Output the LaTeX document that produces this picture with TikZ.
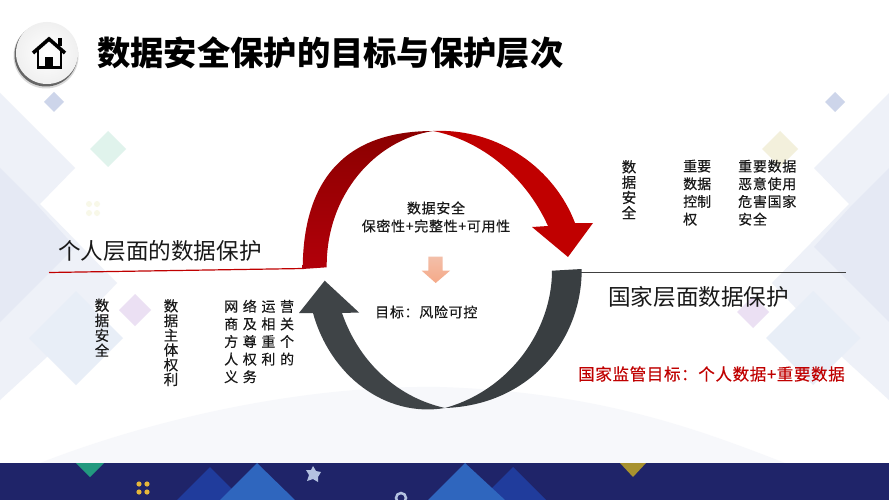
\documentclass[tikz,border=0pt]{standalone}
\usepackage{fontspec}
\setmainfont[FakeBold=0.3]{Noto Sans CJK SC}
\newfontfamily\plainfont{Noto Sans CJK SC}
\newfontfamily\cjkwide[LetterSpace=33,FakeBold=0.3]{Noto Sans CJK SC}
\newfontfamily\cjkmid[LetterSpace=5,FakeBold=0.3]{Noto Sans CJK SC}
\newfontfamily\cjkred[LetterSpace=4,FakeBold=0.3]{Noto Sans CJK SC}
\usepackage{xcolor}
\newcommand{\fwcolon}{\char"FF1A\relax}
\definecolor{bandblue}{HTML}{1F2469}
\definecolor{triA}{HTML}{2F66BE}
\definecolor{triB}{HTML}{203C9C}
\definecolor{bgA}{HTML}{EEF1F8}
\definecolor{bgB}{HTML}{E5E9F4}
\definecolor{bgC}{HTML}{E8EEF7}
\definecolor{redarrow}{HTML}{C00000}
\definecolor{darkarrow}{HTML}{393E41}
\definecolor{gemA}{HTML}{CDD5EA}
\definecolor{gemB}{HTML}{E0F3EC}
\definecolor{gemC}{HTML}{EBE0F3}
\definecolor{gemD}{HTML}{F3F0DC}
\definecolor{dotpale}{HTML}{F8F8E8}
\definecolor{wavec}{HTML}{F7F8FB}
\definecolor{teal}{HTML}{22997F}
\definecolor{gold}{HTML}{A8922F}
\definecolor{dotgold}{HTML}{E6B73A}
\definecolor{starc}{HTML}{B4C2E0}
\definecolor{redtop}{HTML}{8B0000}
\definecolor{redbot}{HTML}{B2000A}
\definecolor{peachA}{HTML}{F3BFA9}
\definecolor{peachB}{HTML}{F5A988}
\tikzset{
  titletext/.style={font=\fontsize{33.3}{38}\selectfont\plainfont\bfseries,anchor=west,text=black,inner sep=0pt},
  headtext/.style={font=\fontsize{22.6}{26}\selectfont\plainfont,anchor=west,text=black!90,inner sep=0pt},
  bodytext/.style={align=left,inner sep=0pt,anchor=north west,text=black!90},
  midtext/.style={font=\fontsize{14}{18}\selectfont\cjkmid,align=center,inner sep=0pt,text=black!90},
}
\begin{document}
\begin{tikzpicture}[x=1pt,y=-1pt]
\useasboundingbox (0,0) rectangle (889,500);
\fill[white] (0,0) rectangle (889,500);
% background left
\fill[bgA] (0,93)--(75,168)--(40,204)--(117,283)--(47,357)--(0,400)--cycle;
\fill[bgB] (0,168)--(37,205)--(75,247)--(0,322)--cycle;
\fill[bgC] (76,291)--(123,338)--(76,385)--(29,338)--cycle;
% background right
\fill[bgA] (889,93)--(814,168)--(849,204)--(772,283)--(842,357)--(889,400)--cycle;
\fill[bgB] (889,168)--(852,205)--(814,247)--(889,322)--cycle;
\fill[bgC] (813,291)--(860,338)--(813,385)--(766,338)--cycle;
% small gems
\fill[gemA] (54,92)--(64,102)--(54,112)--(44,102)--cycle;
\fill[gemB] (108,131)--(126,149)--(108,167)--(90,149)--cycle;
\fill[gemC] (135,294)--(151,310)--(135,326)--(119,310)--cycle;
\fill[gemA] (835,92)--(845,102)--(835,112)--(825,102)--cycle;
\fill[gemD] (780,131)--(798,149)--(780,167)--(762,149)--cycle;
\fill[gemC] (753,296)--(769,312)--(753,328)--(737,312)--cycle;
\foreach \dx/\dy in {89/204,97/204,89/213,97/213}{\fill[dotpale] (\dx,\dy) circle (3);}
% wave
\fill[wavec] (40,463) .. controls (150,420) and (300,385) .. (440,387) .. controls (600,392) and (700,430) .. (785,463) -- cycle;
% band
\fill[bandblue] (0,463) rectangle (889,500);
\fill[teal] (76,463)--(104,463)--(90,477)--cycle;
\fill[triB] (210,467)--(243,500)--(177,500)--cycle;
\fill[triA] (257,463)--(295,500)--(220,500)--cycle;
\fill[triB] (513,467)--(546,500)--(480,500)--cycle;
\fill[triA] (465,463)--(505,500)--(428,500)--cycle;
\fill[gold] (620,463)--(646,463)--(633,477)--cycle;
\foreach \dx/\dy in {139/484,147/484,139/492,147/492}{\fill[dotgold] (\dx,\dy) circle (2.6);}
\fill[starc] (313,466)--(316,471)--(321,472)--(318,477)--(318,482)--(313,479)--(307,481)--(309,475)--(306,470)--(311,470)--cycle;
\draw[starc,line width=2.5] (401,498) circle (5);
% icon
\fill[black!15] (46,56) circle (32.5);
\fill[black!60] (46,55) circle (31.5);
\shade[inner color=white,outer color=black!6] (47,53) circle (31);
\draw[black,line width=3.6,line join=miter] (33,53)--(49,39)--(65,53);
\fill[black] (58,38) rectangle (62,46);
\draw[black,line width=2.8] (38,50)--(38,67.5)--(61,67.5)--(61,50);
\fill[black] (45,57) rectangle (53,67);
% title
\node[titletext] (title) at (97,53) {数据安全保护的目标与保护层次};
% lines
\coordinate (lineLa) at (49,272.5);
\coordinate (lineLb) at (304,268.5);
\coordinate (lineRa) at (580,272);
\coordinate (lineRb) at (846,272);
\draw[redarrow,line width=1.2] (lineLa)--(lineLb);
\draw[black!75,line width=1] (lineRa)--(lineRb);
% red arrow
\shade[top color=redtop,bottom color=redbot] (302.7,269) .. controls (303,180) and (345,131) .. (433,131) .. controls (375,140) and (326,195) .. (326.7,267.3) -- cycle;
\fill[redarrow] (433,131) .. controls (500,128) and (555,170) .. (575,223) -- (593,223) -- (568,257) -- (532,227) -- (548,226) .. controls (525,175) and (480,140) .. (433,131) -- cycle;
% dark arrow
\fill[darkarrow] (581.7,269) .. controls (582,340) and (530,405) .. (445,408) .. controls (510,390) and (552,330) .. (552,270.7) -- cycle;
\fill[darkarrow!97!white] (445,408) .. controls (385,418) and (330,375) .. (313,313) -- (299,313) -- (324.7,280.7) -- (359,312.5) -- (342,313) .. controls (360,365) and (400,398) .. (445,408) -- cycle;
% small arrow
\shade[top color=peachA,bottom color=peachB] (428.3,256.7) -- (442.7,256.7) -- (442.7,270.7) -- (450,270.7) -- (435.7,283) -- (421.7,270.7) -- (428.3,270.7) -- cycle;
% head texts
\node[headtext] (persHead) at (58,251) {个人层面的数据保护};
\node[headtext] (natHead) at (608,297) {国家层面数据保护};
\node[anchor=west,inner sep=0pt,text=redarrow,font=\fontsize{16.5}{18}\selectfont\cjkred] (natGoal) at (578,374) {国家监管目标\fwcolon{}个人数据+重要数据};
% centre
\node[midtext] (centerA) at (436,217) {数据安全\\保密性+完整性+可用性};
\node[midtext,anchor=west] (centerB) at (375,312) {目标\fwcolon{}风险可控};
% left columns
\node[bodytext,font=\fontsize{14.5}{15}\selectfont,anchor=north] (colA) at (102,298.5) {数\\据\\安\\全};
\node[bodytext,font=\fontsize{14.5}{14.7}\selectfont,anchor=north] (colB) at (171,299) {数\\据\\主\\体\\权\\利};
\node[bodytext,font=\fontsize{14}{17.6}\selectfont\cjkwide,anchor=north west] (colC) at (224,299.5) {网络运营\\商及相关\\方尊重个\\人权利的\\义务};
% right columns
\node[bodytext,font=\fontsize{14.5}{15.3}\selectfont,anchor=north] (colD) at (629,160) {数\\据\\安\\全};
\node[bodytext,font=\fontsize{14}{17.7}\selectfont,anchor=north west] (colE) at (683,159.5) {重要\\数据\\控制\\权};
\node[bodytext,font=\fontsize{14}{17.7}\selectfont\cjkmid,anchor=north west] (colF) at (738,159.5) {重要数据\\恶意使用\\危害国家\\安全};
\end{tikzpicture}
\end{document}
